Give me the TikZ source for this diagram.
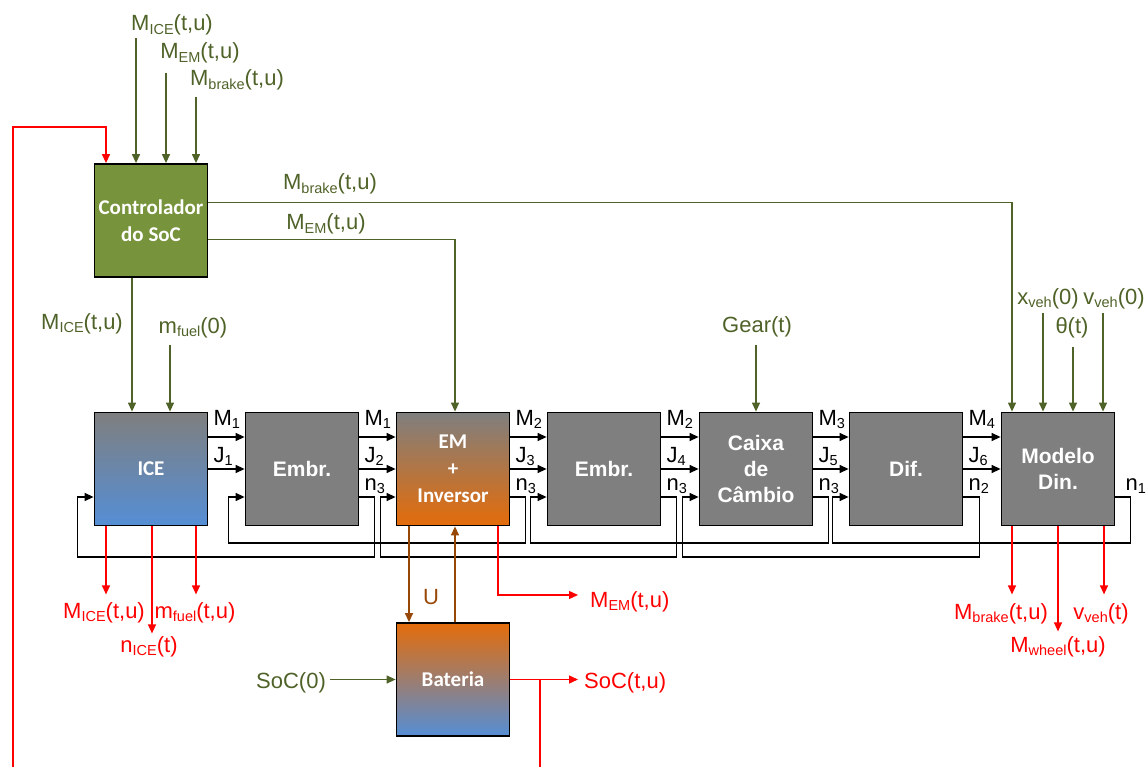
\documentclass[tikz,border=0pt]{standalone}
\usepackage{fontspec}
\setmainfont{Liberation Sans}
\newfontfamily\calb{Carlito}
\usetikzlibrary{arrows.meta,calc}
\definecolor{olv}{HTML}{4F6228}
\definecolor{olvfill}{HTML}{77933C}
\definecolor{boxgray}{HTML}{7F7F7F}
\definecolor{bblue}{HTML}{558ED5}
\definecolor{borange}{HTML}{E46C0A}
\definecolor{bpurple}{RGB}{170,125,160}
\definecolor{brn}{HTML}{984806}
\definecolor{bred}{HTML}{FF0000}
\newcommand\lbl[2]{#1\raisebox{-0.18em}{\fontsize{14.5}{14.5}\selectfont #2}}
\begin{document}
\begin{tikzpicture}[x=1pt,y=-1pt,
  blk/.style={draw=black,line width=1.8pt,minimum width=113pt,minimum height=113pt,inner sep=0pt,text=white,align=center},
  arialb/.style={font=\bfseries\fontsize{21}{26}\selectfont},
  calibb/.style={font=\calb\bfseries\fontsize{21}{27}\selectfont},
  graybox/.style={blk,arialb,fill=boxgray},
  ctrlbox/.style={blk,calibb,fill=olvfill},
  icebox/.style={blk,calibb,top color=boxgray,bottom color=bblue},
  embox/.style={blk,calibb,top color=boxgray,bottom color=borange},
  batbox/.style={blk,calibb,top color=borange,middle color=bpurple,bottom color=bblue},
  sig/.style={line width=1.3pt,-{Triangle[length=9pt,width=8pt]}},
  wire/.style={line width=1.3pt},
  lab/.style={font=\fontsize{22}{26}\selectfont,inner sep=0pt,anchor=base},
  plab/.style={font=\fontsize{22}{26}\selectfont,inner sep=0pt,anchor=base west}
]
\useasboundingbox (0,0) rectangle (1148,767);

% blocks
\node[ctrlbox] (ctrl) at (151,220.5) {Controlador\\do SoC};
\node[icebox] (ice) at (151,469) {ICE};
\node[graybox] (emb1) at (302,469) {Embr.};
\node[embox] (em) at (453,469) {EM\\+\\Inversor};
\node[graybox] (emb2) at (604,469) {Embr.};
\node[graybox] (cx) at (756,469) {Caixa\\de\\Câmbio};
\node[graybox] (dif) at (906,469) {Dif.};
\node[graybox] (mod) at (1058,469) {Modelo\\Din.};
\node[batbox] (bat) at (453,679.5) {Bateria};

% controller inputs
\node[lab,olv] (tmice) at (172,31) {\lbl{M}{ICE}(t,u)};
\node[lab,olv] (tmem) at (200,59) {\lbl{M}{EM}(t,u)};
\node[lab,olv] (tmbr) at (237,86) {\lbl{M}{brake}(t,u)};
\coordinate (a1) at (136,38);
\coordinate (a2) at (166,73);
\coordinate (a3) at (196,97);
\draw[sig,olv] (a1) -- (a1 |- ctrl.north);
\draw[sig,olv] (a2) -- (a2 |- ctrl.north);
\draw[sig,olv] (a3) -- (a3 |- ctrl.north);

% red feedback into controller
\coordinate (fb0) at (13,767);
\coordinate (fb1) at (106,127);
\draw[sig,bred] (fb0) |- (fb1) -- (fb1 |- ctrl.north);

% controller outputs
\draw[sig,olv] ([yshift=18pt]ctrl.east) -| ([xshift=-46pt]mod.north);
\node[lab,olv] at (330,190) {\lbl{M}{brake}(t,u)};
\draw[sig,olv] ([yshift=-19pt]ctrl.east) -| ([xshift=2pt]em.north);
\node[lab,olv] at (326,230) {\lbl{M}{EM}(t,u)};
\draw[sig,olv] ([xshift=-19pt]ctrl.south) -- ([xshift=-19pt]ice.north);
\node[lab,olv] at (82,329) {\lbl{M}{ICE}(t,u)};
\node[lab,olv] at (193,333) {\lbl{m}{fuel}(0)};
\coordinate (mf) at (170,345);
\draw[sig,olv] (mf) -- (mf |- ice.north);

% forward signals
\foreach \A/\B in {ice/emb1,emb1/em,em/emb2,emb2/cx,cx/dif,dif/mod}{
  \draw[sig] ([yshift=32pt]\A.east) -- ([yshift=32pt]\B.west);
  \draw[sig] (\A.east) -- (\B.west);
}
% labels in gaps
\node[plab] at ([xshift=5pt,yshift=44pt]ice.east) {\lbl{M}{1}};
\node[plab] at ([xshift=5pt,yshift=7pt]ice.east) {\lbl{J}{1}};
\node[plab] at ([xshift=5pt,yshift=44pt]emb1.east) {\lbl{M}{1}};
\node[plab] at ([xshift=5pt,yshift=7pt]emb1.east) {\lbl{J}{2}};
\node[plab] at ([xshift=5pt,yshift=-21pt]emb1.east) {\lbl{n}{3}};
\node[plab] at ([xshift=5pt,yshift=44pt]em.east) {\lbl{M}{2}};
\node[plab] at ([xshift=5pt,yshift=7pt]em.east) {\lbl{J}{3}};
\node[plab] at ([xshift=5pt,yshift=-21pt]em.east) {\lbl{n}{3}};
\node[plab] at ([xshift=5pt,yshift=44pt]emb2.east) {\lbl{M}{2}};
\node[plab] at ([xshift=5pt,yshift=7pt]emb2.east) {\lbl{J}{4}};
\node[plab] at ([xshift=5pt,yshift=-21pt]emb2.east) {\lbl{n}{3}};
\node[plab] at ([xshift=5pt,yshift=44pt]cx.east) {\lbl{M}{3}};
\node[plab] at ([xshift=5pt,yshift=7pt]cx.east) {\lbl{J}{5}};
\node[plab] at ([xshift=5pt,yshift=-21pt]cx.east) {\lbl{n}{3}};
\node[plab] at ([xshift=5pt,yshift=44pt]dif.east) {\lbl{M}{4}};
\node[plab] at ([xshift=5pt,yshift=7pt]dif.east) {\lbl{J}{6}};
\node[plab] at ([xshift=5pt,yshift=-21pt]dif.east) {\lbl{n}{2}};
\node[plab] at ([xshift=10pt,yshift=-21pt]mod.east) {\lbl{n}{1}};

% feedback loops (speed)
\draw[sig] ([yshift=-28pt]emb1.east) -- ++(15,0) -- ++(0,60) -| ([xshift=-16pt,yshift=-28pt]ice.west) -- ([yshift=-28pt]ice.west);
\draw[sig] ([yshift=-28pt]em.east) -- ++(15,0) -- ++(0,46) -| ([xshift=-16pt,yshift=-28pt]emb1.west) -- ([yshift=-28pt]emb1.west);
\draw[sig] ([yshift=-28pt]emb2.east) -- ++(15,0) -- ++(0,60) -| ([xshift=-15pt,yshift=-28pt]em.west) -- ([yshift=-28pt]em.west);
\draw[sig] ([yshift=-28pt]cx.east) -- ++(15,0) -- ++(0,46) -| ([xshift=-16pt,yshift=-28pt]emb2.west) -- ([yshift=-28pt]emb2.west);
\draw[sig] ([yshift=-28pt]dif.east) -- ++(16,0) -- ++(0,60) -| ([xshift=-16pt,yshift=-28pt]cx.west) -- ([yshift=-28pt]cx.west);
\draw[sig] ([yshift=-28pt]mod.east) -- ++(15,0) -- ++(0,46) -| ([xshift=-16pt,yshift=-28pt]dif.west) -- ([yshift=-28pt]dif.west);

% ICE outputs
\draw[sig,bred] ([xshift=-45pt]ice.south) -- ++(0,68);
\draw[sig,bred] ([xshift=1pt]ice.south) -- ++(0,107);
\draw[sig,bred] ([xshift=45pt]ice.south) -- ++(0,68);
\node[lab,bred] at (104,618) {\lbl{M}{ICE}(t,u)};
\node[lab,bred] at (195,618) {\lbl{m}{fuel}(t,u)};
\node[lab,bred] at (149,652) {\lbl{n}{ICE}(t)};

% EM / battery
\draw[sig,brn] ([xshift=-44pt]em.south) -- ([xshift=-44pt]bat.north);
\draw[sig,brn] ([xshift=2pt]bat.north) -- ([xshift=2pt]em.south);
\node[lab,brn] at (431,604) {U};
\coordinate (memo) at (578,595);
\draw[sig,bred] ([xshift=45pt]em.south) |- (memo);
\node[plab,bred] at (590,607) {\lbl{M}{EM}(t,u)};

\node[lab,olv] (soc0) at (291,688) {SoC(0)};
\draw[sig,olv] ([xshift=4pt]soc0.east |- bat.west) -- (bat.west);
\coordinate (soco) at (578,679.5);
\draw[sig,bred] (bat.east) -- (soco);
\node[plab,bred] at (584,688) {SoC(t,u)};
\coordinate (jn) at (540,679.5);
\coordinate (jb) at (540,767);
\draw[wire,bred] (jn) -- (jb);

% gearbox input
\node[lab,olv] at (757,332) {Gear(t)};
\coordinate (g) at (756,345);
\draw[sig,olv] (g) -- (g |- cx.north);

% vehicle model inputs
\node[lab,olv] at (1048,304) {\lbl{x}{veh}(0)};
\node[lab,olv] at (1114,304) {\lbl{v}{veh}(0)};
\node[lab,olv] at (1072,333) {θ(t)};
\coordinate (x1) at (1043,313);
\coordinate (x2) at (1073,347);
\coordinate (x3) at (1103,313);
\draw[sig,olv] (x1) -- (x1 |- mod.north);
\draw[sig,olv] (x2) -- (x2 |- mod.north);
\draw[sig,olv] (x3) -- (x3 |- mod.north);

% vehicle model outputs
\draw[sig,bred] ([xshift=-46pt]mod.south) -- ++(0,68);
\draw[sig,bred] (mod.south) -- ++(0,105);
\draw[sig,bred] ([xshift=46pt]mod.south) -- ++(0,68);
\node[lab,bred] at (1001,619) {\lbl{M}{brake}(t,u)};
\node[lab,bred] at (1101,619) {\lbl{v}{veh}(t)};
\node[lab,bred] at (1058,652) {\lbl{M}{wheel}(t,u)};
\end{tikzpicture}
\end{document}
